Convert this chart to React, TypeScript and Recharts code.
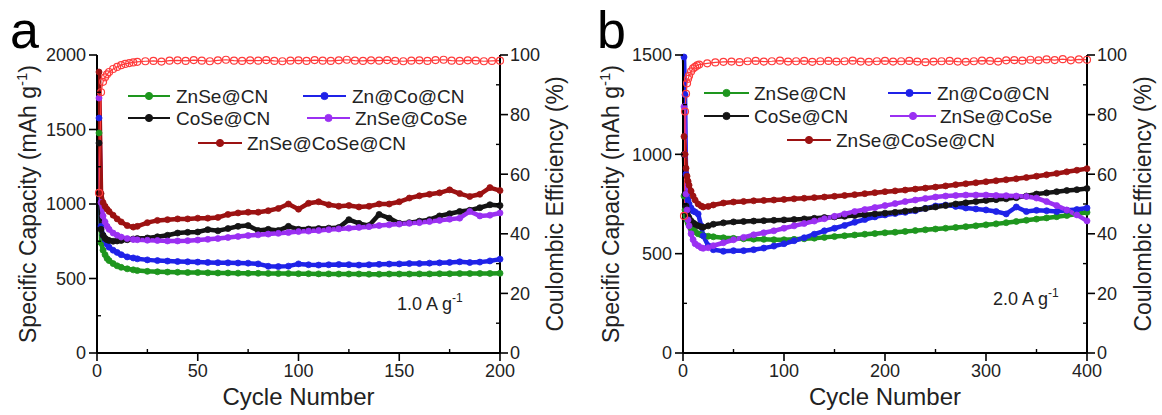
import React from 'react';
import { ComposedChart, Line, XAxis, YAxis, Legend, Label } from 'recharts';

const FONT = "Arial, 'Liberation Sans', Helvetica, sans-serif";
const INK = '#222';

// ---------- series meta ----------
const seriesNames = ['ZnSe@CN', 'Zn@Co@CN', 'CoSe@CN', 'ZnSe@CoSe', 'ZnSe@CoSe@CN'];
const seriesKeys = ['znseCn', 'znCoCn', 'coseCn', 'znseCose', 'znseCoseCn'];
const seriesColors = ['#1e961e', '#1f22e8', '#141414', '#9b30f2', '#9c1212'];
const ceColor = '#ff3b3b';

// ---------- panel a (1.0 A g-1) ----------
const cyclesA = [1, 2, 3, 4, 5, 6, 8, 10, 12, 15, 18, 20, 25, 30, 35, 40, 45, 50, 55, 60, 65, 70, 75, 80, 85, 90, 95, 100, 105, 110, 115, 120, 125, 130, 135, 140, 145, 150, 155, 160, 165, 170, 175, 180, 185, 190, 195, 200];
const znseCnA = [1477, 740, 690, 660, 635, 620, 600, 585, 575, 565, 558, 553, 548, 545, 543, 542, 540, 540, 538, 537, 537, 536, 535, 535, 534, 533, 533, 532, 532, 531, 531, 530, 530, 530, 529, 529, 530, 530, 530, 531, 531, 532, 532, 533, 533, 534, 534, 535];
const znCoCnA = [1577, 850, 790, 760, 730, 710, 690, 675, 660, 645, 638, 632, 625, 620, 617, 614, 612, 610, 608, 606, 605, 604, 603, 598, 582, 580, 583, 598, 592, 590, 592, 594, 593, 590, 592, 595, 597, 598, 600, 600, 603, 605, 608, 612, 607, 610, 618, 630];
const coseCnA = [1409, 830, 790, 770, 760, 755, 750, 752, 755, 760, 765, 768, 772, 780, 790, 805, 810, 812, 828, 820, 835, 850, 855, 822, 830, 822, 850, 830, 832, 835, 838, 842, 895, 870, 855, 930, 905, 870, 875, 885, 895, 920, 935, 950, 958, 975, 995, 990];
const znseCoseA = [1711, 1010, 920, 880, 850, 830, 805, 790, 778, 768, 762, 760, 757, 755, 752, 752, 754, 758, 763, 768, 775, 782, 788, 793, 798, 803, 808, 815, 818, 822, 828, 833, 838, 843, 848, 855, 860, 865, 870, 875, 882, 890, 898, 905, 950, 920, 925, 940];
const znseCoseCnA = [1886, 1070, 1010, 985, 965, 950, 925, 900, 880, 855, 845, 850, 875, 890, 895, 900, 900, 905, 905, 910, 930, 940, 945, 945, 955, 970, 1000, 965, 1005, 1015, 995, 985, 990, 980, 985, 1000, 1000, 1015, 1040, 1055, 1065, 1075, 1095, 1070, 1050, 1065, 1110, 1090];
const ceCyclesA = [1, 2, 3, 4, 5, 6, 8, 10, 12, 14, 16, 18, 20, 24, 28, 32, 36, 40, 44, 48, 52, 56, 60, 64, 68, 72, 76, 80, 84, 88, 92, 96, 100, 104, 108, 112, 116, 120, 124, 128, 132, 136, 140, 144, 148, 152, 156, 160, 164, 168, 172, 176, 180, 184, 188, 192, 196, 200];
const ceA = [53.7, 87.5, 91, 92.5, 93.5, 94.3, 95.3, 96, 96.6, 97, 97.3, 97.5,
  97.7, 97.9, 98.0, 97.8, 98.1, 98.2, 98.0, 98.3, 98.1, 97.9,
  98.2, 98.4, 98.1, 98.0, 98.2, 98.1, 98.3, 98.0, 97.9, 98.1,
  98.2, 98.0, 98.3, 98.1, 98.0, 98.2, 98.4, 98.1, 98.0, 98.2,
  98.1, 98.3, 98.0, 97.9, 98.1, 98.2, 98.0, 98.3, 98.4, 98.1,
  98.0, 98.2, 98.1, 97.9, 98.0, 98.1];

// ---------- panel b (2.0 A g-1) ----------
const cyclesB = [1, 2, 3, 4, 5, 6, 8, 10, 12, 15, 18, 20, 25, 30, 40, 50, 60, 70, 80, 90, 100, 110, 120, 130, 140, 150, 160, 170, 180, 190, 200, 210, 220, 230, 240, 250, 260, 270, 280, 290, 300, 310, 320, 330, 340, 350, 360, 370, 380, 390, 400];
const znseCnB = [790, 720, 690, 670, 655, 645, 630, 620, 610, 600, 595, 592, 588, 585, 580, 577, 575, 573, 572, 570, 570, 572, 575, 578, 582, 586, 590, 594, 598, 601, 605, 608, 612, 616, 620, 624, 628, 632, 636, 640, 645, 650, 656, 662, 668, 674, 680, 686, 692, 700, 708];
const znCoCnB = [1490, 1300, 900, 800, 770, 750, 730, 715, 710, 700, 640, 590, 540, 520, 512, 515, 515, 520, 528, 538, 550, 565, 580, 598, 615, 628, 642, 658, 672, 685, 695, 702, 708, 716, 728, 740, 745, 738, 730, 725, 720, 712, 700, 735, 712, 718, 716, 712, 718, 722, 730];
const coseCnB = [1000, 800, 740, 710, 690, 680, 665, 655, 648, 640, 635, 633, 640, 648, 655, 660, 662, 664, 666, 668, 670, 672, 675, 678, 682, 685, 688, 692, 696, 700, 704, 708, 714, 720, 727, 735, 742, 750, 756, 762, 768, 772, 776, 782, 790, 800, 806, 812, 818, 822, 828];
const znseCoseB = [1240, 1000, 800, 720, 670, 640, 600, 570, 550, 540, 530, 527, 530, 540, 555, 570, 582, 595, 605, 615, 628, 640, 652, 664, 676, 688, 700, 712, 722, 732, 742, 752, 762, 770, 778, 785, 790, 793, 795, 795, 795, 793, 792, 790, 788, 780, 762, 742, 720, 695, 665];
const znseCoseCnB = [1090, 1000, 930, 890, 865, 845, 815, 790, 770, 750, 740, 735, 738, 745, 755, 760, 763, 766, 768, 770, 773, 776, 779, 782, 785, 789, 793, 797, 802, 807, 812, 816, 820, 825, 830, 835, 841, 847, 852, 857, 862, 867, 872, 877, 883, 890, 897, 904, 912, 920, 928];
const ceCyclesB = [1, 2, 3, 4, 5, 6, 8, 10, 12, 14, 16, 24, 32, 40, 48, 56, 64, 72, 80, 88, 96, 104, 112, 120, 128, 136, 144, 152, 160, 168, 176, 184, 192, 200, 208, 216, 224, 232, 240, 248, 256, 264, 272, 280, 288, 296, 304, 312, 320, 328, 336, 344, 352, 360, 368, 376, 384, 392, 400];
const ceB = [46, 81, 87, 90.5, 92, 93, 94.5, 95.5, 96, 96.5,
  96.8, 97.2, 97.5, 97.7, 97.8, 97.6, 97.9, 98.0, 97.8, 97.9,
  98.1, 97.8, 97.9, 98.0, 97.7, 97.9, 98.0, 97.8, 97.9, 98.1,
  97.8, 97.7, 97.9, 98.0, 97.8, 97.9, 98.0, 97.8, 97.6, 97.8,
  97.9, 98.0, 97.8, 97.7, 97.9, 98.1, 98.0, 97.8, 98.2, 98.3,
  98.1, 98.4, 98.2, 98.5, 98.3, 98.6, 98.2, 98.5, 98.4];

// ---------- ticks ----------
const xMajorsA = [0, 50, 100, 150, 200];
const xMinorsA = [25, 75, 125, 175];
const yMajorsA = [0, 500, 1000, 1500, 2000];
const yMinorsA = [250, 750, 1250, 1750];
const xMajorsB = [0, 100, 200, 300, 400];
const xMinorsB = [50, 150, 250, 350];
const yMajorsB = [0, 500, 1000, 1500];
const yMinorsB = [250, 750, 1250];
const ceMajors = [0, 20, 40, 60, 80, 100];
const ceMinors = [10, 30, 50, 70, 90];

function buildData(cycles: number[], cols: number[][]) {
  return cycles.map((c, i) => {
    const row: any = { cycle: c };
    seriesKeys.forEach((k, j) => { row[k] = cols[j][i]; });
    return row;
  });
}
const dataA = buildData(cyclesA, [znseCnA, znCoCnA, coseCnA, znseCoseA, znseCoseCnA]);
const dataB = buildData(cyclesB, [znseCnB, znCoCnB, coseCnB, znseCoseB, znseCoseCnB]);
const ceDataA = ceCyclesA.map((c, i) => ({ cycle: c, ce: ceA[i] }));
const ceDataB = ceCyclesB.map((c, i) => ({ cycle: c, ce: ceB[i] }));

const axisStyle = { stroke: '#000', strokeWidth: 2 };

function AxisTick(props: any) {
  const { x, y, payload, side, majors } = props;
  const v = payload.value;
  const major = majors.includes(v);
  const txt = { fontFamily: FONT, fontSize: 18, fill: INK } as any;
  if (side === 'left') {
    return (
      <g>
        {major ? <line x1={x - 8} x2={x} y1={y} y2={y} stroke="#000" strokeWidth={1.6} />
          : <line x1={x} x2={x + 4} y1={y} y2={y} stroke="#000" strokeWidth={1.4} />}
        {major && <text x={x - 11} y={y} dy="0.35em" textAnchor="end" {...txt}>{v}</text>}
      </g>
    );
  }
  if (side === 'right') {
    return (
      <g>
        {major ? <line x1={x} x2={x + 8} y1={y} y2={y} stroke="#000" strokeWidth={1.6} />
          : <line x1={x - 4} x2={x} y1={y} y2={y} stroke="#000" strokeWidth={1.4} />}
        {major && <text x={x + 10} y={y} dy="0.35em" textAnchor="start" {...txt}>{v}</text>}
      </g>
    );
  }
  return (
    <g>
      {major ? <line x1={x} x2={x} y1={y} y2={y + 8} stroke="#000" strokeWidth={1.6} />
        : <line x1={x} x2={x} y1={y - 4} y2={y} stroke="#000" strokeWidth={1.4} />}
      {major && <text x={x} y={y + 24} textAnchor="middle" {...txt}>{v}</text>}
    </g>
  );
}

type LegendItem = { idx: number; l1: number; l2: number; tx: number; y: number };

function Panel(props: any) {
  const { data, ceData, xMax, xMajors, xMinors, yMax, yMajors, yMinors, plotLeft, rightW,
    letter, letterX, rate, rateX, rateY, legendItems, leftTitleX, rightTitleDx } = props;
  const W = 581;
  const H = 415;

  const renderLegend = () => (
    <svg width={W} height={H} style={{ position: 'absolute', left: 0, top: 0, overflow: 'visible' }}>
      <text x={letterX} y={48} fontFamily={FONT} fontSize={52} fill="#000">{letter}</text>
      {legendItems.map((it: LegendItem) => (
        <g key={it.idx}>
          <line x1={it.l1} x2={it.l2} y1={it.y} y2={it.y} stroke={seriesColors[it.idx]} strokeWidth={2} />
          <circle cx={(it.l1 + it.l2) / 2} cy={it.y} r={3.6} fill={seriesColors[it.idx]} stroke={seriesColors[it.idx]} />
          <text x={it.tx} y={it.y} dy="0.36em" fontFamily={FONT} fontSize={19} fill={INK}>{seriesNames[it.idx]}</text>
        </g>
      ))}
      <text x={rateX} y={rateY} fontFamily={FONT} fontSize={18} fill={INK}>
        {rate} A g<tspan dy={-8} fontSize={12}>-1</tspan>
      </text>
    </svg>
  );

  return (
    <ComposedChart width={W} height={H} data={data} margin={{ top: 55, right: 0, bottom: 0, left: 0 }}>
      <XAxis xAxisId="bottom" dataKey="cycle" type="number" domain={[0, xMax]} ticks={[...xMajors, ...xMinors].sort((a, b) => a - b)}
        interval={0} tickSize={0} tickMargin={0} tickLine={false} axisLine={axisStyle} height={62}
        tick={<AxisTick side="bottom" majors={xMajors} />}>
        <Label content={(p: any) => {
          const vb = p.viewBox;
          return <text x={vb.x + vb.width / 2} y={vb.y + 52} textAnchor="middle" fontFamily={FONT} fontSize={24} fill={INK}>Cycle Number</text>;
        }} />
      </XAxis>
      <XAxis xAxisId="top" orientation="top" type="number" domain={[0, xMax]} tick={false} tickLine={false} axisLine={axisStyle} height={0} />
      <YAxis yAxisId="left" type="number" domain={[0, yMax]} ticks={[...yMajors, ...yMinors].sort((a, b) => a - b)}
        interval={0} tickSize={0} tickMargin={0} tickLine={false} axisLine={axisStyle} width={plotLeft}
        tick={<AxisTick side="left" majors={yMajors} />}>
        <Label content={(p: any) => {
          const vb = p.viewBox;
          const cx = leftTitleX;
          const cy = vb.y + vb.height / 2;
          return (
            <text x={cx} y={cy} transform={`rotate(-90 ${cx} ${cy})`} textAnchor="middle" dy="0.35em" fontFamily={FONT} fontSize={23} fill={INK}>
              Specific Capacity (mAh g<tspan dy={-9} fontSize={15}>-1</tspan><tspan dy={9}>)</tspan>
            </text>
          );
        }} />
      </YAxis>
      <YAxis yAxisId="right" orientation="right" type="number" domain={[0, 100]} ticks={[...ceMajors, ...ceMinors].sort((a, b) => a - b)}
        interval={0} tickSize={0} tickMargin={0} tickLine={false} axisLine={axisStyle} width={rightW}
        tick={<AxisTick side="right" majors={ceMajors} />}>
        <Label content={(p: any) => {
          const vb = p.viewBox;
          const cx = vb.x + rightTitleDx;
          const cy = vb.y + vb.height / 2;
          return (
            <text x={cx} y={cy} transform={`rotate(-90 ${cx} ${cy})`} textAnchor="middle" dy="0.35em" fontFamily={FONT} fontSize={23} fill={INK}>
              Coulombic Efficiency (%)
            </text>
          );
        }} />
      </YAxis>
      {seriesKeys.map((k, j) => (
        <Line key={k} xAxisId="bottom" yAxisId="left" type="linear" dataKey={k} name={seriesNames[j]}
          stroke={seriesColors[j]} strokeWidth={4.5} isAnimationActive={false}
          dot={{ r: 3, fill: seriesColors[j], stroke: seriesColors[j], strokeWidth: 0.8 }} activeDot={false} />
      ))}
      <Line xAxisId="bottom" yAxisId="right" type="linear" data={ceData} dataKey="ce" name="CE"
        stroke={ceColor} strokeWidth={1.2} isAnimationActive={false}
        dot={{ r: 3.5, fill: 'none', stroke: ceColor, strokeWidth: 1.2 }} activeDot={false} />
      <Legend layout="horizontal" verticalAlign="middle" align="center" content={renderLegend}
        wrapperStyle={{ position: 'absolute', left: 0, top: 0, width: W, height: H, pointerEvents: 'none' }} />
    </ComposedChart>
  );
}

const legendA: LegendItem[] = [
  { idx: 0, l1: 128, l2: 170, tx: 176, y: 96 },
  { idx: 1, l1: 303, l2: 346, tx: 352, y: 96 },
  { idx: 2, l1: 128, l2: 170, tx: 176, y: 118 },
  { idx: 3, l1: 307, l2: 350, tx: 355, y: 118 },
  { idx: 4, l1: 198, l2: 242, tx: 247, y: 143 },
];
const legendB: LegendItem[] = [
  { idx: 0, l1: 123, l2: 168, tx: 173, y: 93 },
  { idx: 1, l1: 307, l2: 350, tx: 356, y: 93 },
  { idx: 2, l1: 123, l2: 168, tx: 173, y: 116 },
  { idx: 3, l1: 309, l2: 355, tx: 359, y: 116 },
  { idx: 4, l1: 206, l2: 250, tx: 255, y: 140 },
];

export default function App() {
  return (
    <div style={{ position: 'absolute', left: 0, top: 0, width: 1162, height: 415, background: '#fff', display: 'flex' }}>
      <Panel data={dataA} ceData={ceDataA} xMax={200} xMajors={xMajorsA} xMinors={xMinorsA}
        yMax={2000} yMajors={yMajorsA} yMinors={yMinorsA} plotLeft={97} rightW={81}
        letter="a" letterX={10} rate="1.0" rateX={397} rateY={310} legendItems={legendA} leftTitleX={28} rightTitleDx={55} />
      <Panel data={dataB} ceData={ceDataB} xMax={400} xMajors={xMajorsB} xMinors={xMinorsB}
        yMax={1500} yMajors={yMajorsB} yMinors={yMinorsB} plotLeft={102} rightW={75}
        letter="b" letterX={16} rate="2.0" rateX={412} rateY={305} legendItems={legendB} leftTitleX={30} rightTitleDx={56} />
    </div>
  );
}
